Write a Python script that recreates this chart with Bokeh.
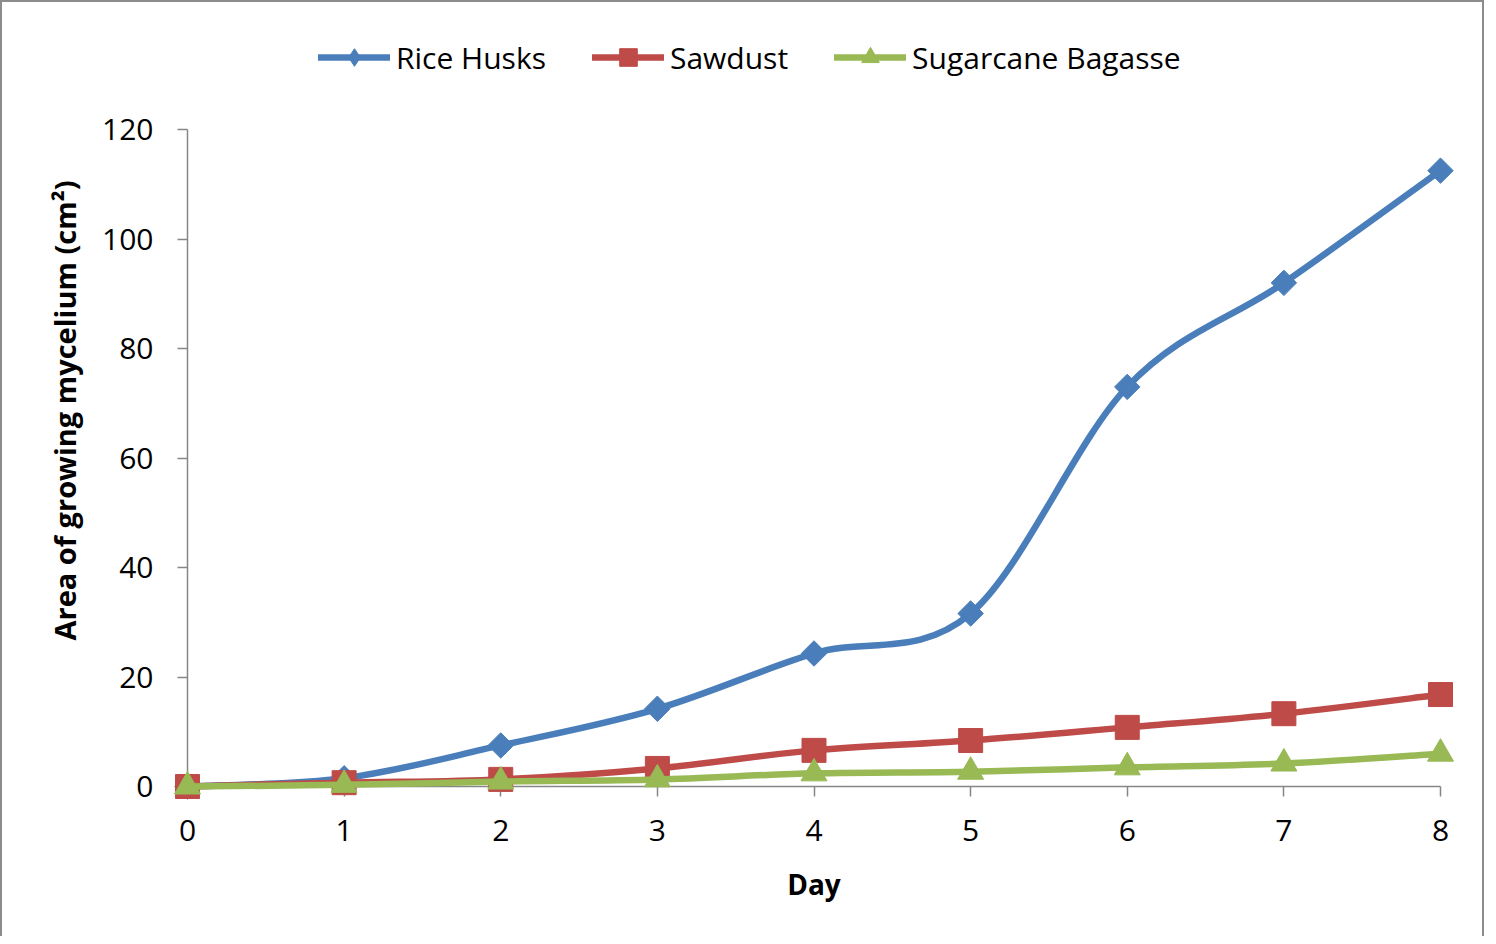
import numpy as np
from math import pi
from bokeh.plotting import figure
from bokeh.models import (FixedTicker, Legend, LegendItem, Title, Range1d, LinearAxis)
from bokeh.embed import file_html
from bokeh.resources import INLINE

# ---- data ----
days = [0, 1, 2, 3, 4, 5, 6, 7, 8]
rice_husks = [0.0, 1.5, 7.5, 14.2, 24.3, 31.6, 73.0, 92.0, 112.5]
sawdust = [0.0, 0.7, 1.3, 3.3, 6.6, 8.4, 10.8, 13.3, 16.8]
sugarcane_bagasse = [0.0, 0.3, 0.9, 1.3, 2.4, 2.7, 3.5, 4.2, 6.0]
series_names = ["Rice Husks", "Sawdust", "Sugarcane Bagasse"]
x_ticks = [0, 1, 2, 3, 4, 5, 6, 7, 8]
y_ticks = [0, 20, 40, 60, 80, 100, 120]

colors = ["#4A7EBB", "#BE4B48", "#98B954"]
AXIS_GRAY = "#868686"
FONT = "Open Sans"

W, H = 1484, 936
# ranges padded so edge markers are not clipped; extra room on top holds the legend
p = figure(width=W, height=H, output_backend="svg", toolbar_location=None,
           x_range=Range1d(-0.1213, 8.1213), y_range=Range1d(-3.47, 138.1),
           min_border_left=166, min_border_right=27,
           min_border_top=28, min_border_bottom=133)
p.styles = {"border-left": "2px solid #8c8c8c", "border-top": "2px solid #8c8c8c",
            "border-right": "2px solid #8c8c8c"}
p.outline_line_color = None
p.grid.visible = False
p.background_fill_color = "white"
p.border_fill_color = "white"

# label-only axes at the frame edges
for ax in (p.xaxis[0], p.yaxis[0]):
    ax.axis_line_color = None
    ax.major_tick_line_color = None
    ax.major_tick_in = 0
    ax.major_tick_out = 0
    ax.minor_tick_line_color = None
    ax.minor_tick_out = 0
    ax.minor_tick_in = 0
    ax.major_label_text_font = FONT
    ax.major_label_text_font_size = "30px"
    ax.major_label_text_color = "black"

p.xaxis[0].ticker = FixedTicker(ticks=x_ticks)
p.yaxis[0].ticker = FixedTicker(ticks=y_ticks)
p.xaxis[0].major_label_standoff = 14
p.yaxis[0].major_label_standoff = 15
p.xaxis[0].axis_label = "Day"
p.xaxis[0].axis_label_text_font = FONT
p.xaxis[0].axis_label_text_font_size = "28px"
p.xaxis[0].axis_label_text_font_style = "bold"
p.xaxis[0].axis_label_text_color = "black"
p.xaxis[0].axis_label_standoff = 21

# axis lines and ticks drawn at data zero (their labels are not drawn)
def line_axis(ticks, bounds):
    return LinearAxis(fixed_location=0, bounds=bounds, ticker=FixedTicker(ticks=ticks),
                      axis_line_color=AXIS_GRAY, axis_line_width=1.5,
                      major_tick_line_color=AXIS_GRAY, major_tick_line_width=1.5,
                      major_tick_in=0, major_tick_out=10,
                      minor_tick_line_color=None, minor_tick_in=0, minor_tick_out=0,
                      major_label_text_color=None, major_label_text_alpha=0,
                      major_label_standoff=0, level="underlay")

p.add_layout(line_axis(x_ticks, (0, 8)), "below")
p.add_layout(line_axis(y_ticks, (0, 120)), "left")

ytitle = Title(text="Area of growing mycelium (cm²)", align="left", offset=165,
               text_font=FONT, text_font_size="29px", text_font_style="bold",
               text_color="black", standoff=31)
p.add_layout(ytitle, "left")


def smooth_controls(xs, ys):
    x = np.asarray(xs, dtype=float)
    y = np.asarray(ys, dtype=float)
    xp = np.concatenate([[x[0]], x, [x[-1]]])
    yp = np.concatenate([[y[0]], y, [y[-1]]])
    n = len(x)
    x0, y0 = x[:-1], y[:-1]
    x1, y1 = x[1:], y[1:]
    cx0 = x0 + (xp[2:n + 1] - xp[0:n - 1]) / 6.0
    cy0 = y0 + (yp[2:n + 1] - yp[0:n - 1]) / 6.0
    cx1 = x1 - (xp[3:n + 2] - xp[1:n]) / 6.0
    cy1 = y1 - (yp[3:n + 2] - yp[1:n]) / 6.0
    return dict(x0=x0, y0=y0, x1=x1, y1=y1, cx0=cx0, cy0=cy0, cx1=cx1, cy1=cy1)


items = []
all_series = [rice_husks, sawdust, sugarcane_bagasse]
for i, (name, vals) in enumerate(zip(series_names, all_series)):
    c = smooth_controls(days, vals)
    br = p.bezier(x0=c["x0"], y0=c["y0"], x1=c["x1"], y1=c["y1"],
                  cx0=c["cx0"], cy0=c["cy0"], cx1=c["cx1"], cy1=c["cy1"],
                  line_color=colors[i], line_width=6.5, line_cap="round")
    if i == 0:
        sr = p.scatter(days, vals, marker="square", angle=pi / 4, size=18,
                       fill_color=colors[i], line_color=colors[i])
        # legend-only diamond (the rotated square is not rotated in legends)
        lr = p.scatter(days, vals, marker="diamond", size=20,
                       fill_color=colors[i], line_color=colors[i], visible=False)
        rends = [br, lr]
    elif i == 1:
        sr = p.scatter(days, vals, marker="square", size=24,
                       fill_color=colors[i], line_color=colors[i])
        rends = [br, sr]
    else:
        sr = p.scatter(days, vals, marker="triangle", size=26,
                       fill_color=colors[i], line_color=colors[i])
        rends = [br, sr]
    items.append(LegendItem(label=name, renderers=rends))

legend = Legend(items=items, orientation="horizontal", location=(150, 726),
                glyph_width=72, glyph_height=44, label_standoff=6, spacing=46,
                padding=0, margin=0, border_line_color=None,
                background_fill_alpha=0, label_text_font=FONT,
                label_text_font_size="30px", label_text_color="black")
p.add_layout(legend)

open("out.html", "w").write(file_html(p, INLINE))
